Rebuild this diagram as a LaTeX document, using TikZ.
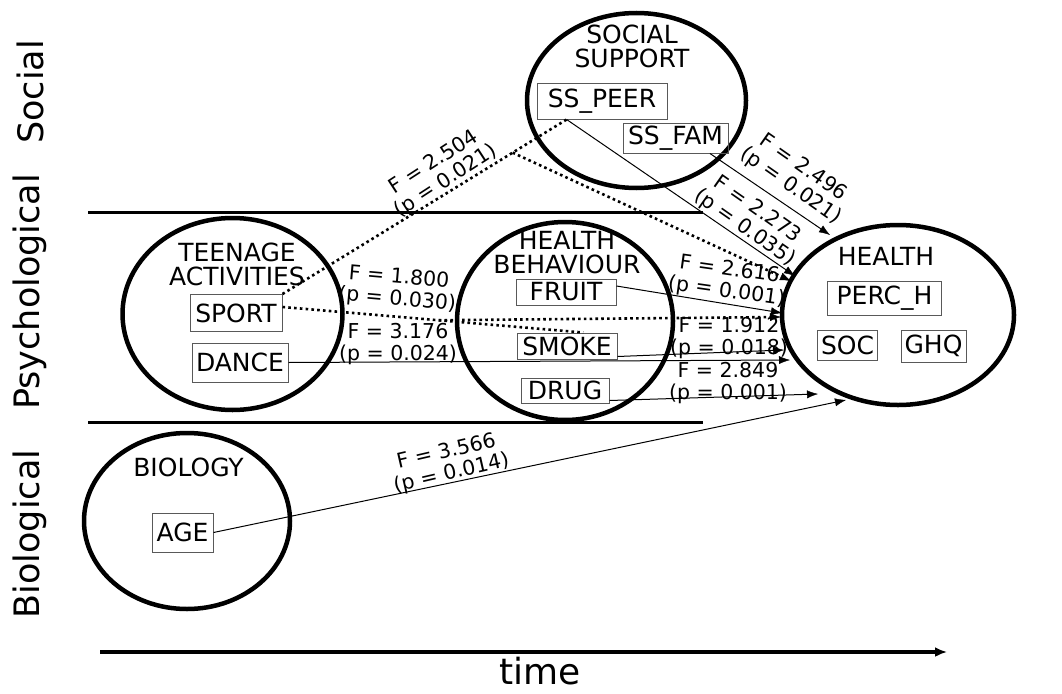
\documentclass[tikz,border=0pt]{standalone}
\usepackage{fontspec}
\setmainfont{DejaVu Sans}
\usetikzlibrary{arrows.meta,shapes.geometric,calc}
\begin{document}
\begin{tikzpicture}[x=1pt,y=-1pt,
  region/.style={ellipse,draw,line width=4.5pt,inner sep=0pt},
  var/.style={draw=black!65,line width=1pt,inner sep=0pt,font=\fontsize{25}{25}\selectfont},
  ttl/.style={align=center,inner sep=0pt,font=\fontsize{25}{24.5}\selectfont},
  lbl/.style={align=center,inner sep=0pt,font=\fontsize{20.5}{22}\selectfont},
  side/.style={rotate=90,inner sep=0pt,font=\fontsize{35}{35}\selectfont},
  tip/.style={-{Latex[length=11pt,width=8pt,line width=0.4pt]}},
  eff/.style={line width=1pt,tip},
  dot/.style={line width=2.6pt,dash pattern=on 2.6pt off 3.2pt},
  sepline/.style={line width=3pt}]
\useasboundingbox (0,0) rectangle (1062,693);

% side labels
\node[side] (lsoc) at (30,92) {Social};
\node[side] (lpsy) at (30,292) {Psychological};
\node[side] (lbio) at (30,534) {Biological};

% separators
\draw[sepline] (88,212) -- (703,212);
\draw[sepline] (88,422) -- (703,422);

% time axis
\coordinate (t0) at (100,652);
\coordinate (t1) at (947,652);
\draw[line width=3.5pt,-{Latex[length=12pt,width=10pt]}] (t0) -- (t1);
\node[inner sep=0pt,font=\fontsize{36}{36}\selectfont] (time) at (540,671) {time};

% regions
\node[region,minimum width=219,minimum height=175] (SSC) at (636.5,100.5) {};
\node[region,minimum width=220,minimum height=192] (TAC) at (232.5,314) {};
\node[region,minimum width=216,minimum height=198] (HBC) at (565,321) {};
\node[region,minimum width=232,minimum height=180] (HC) at (898,315) {};
\node[region,minimum width=206,minimum height=176] (BC) at (187,521) {};

% titles
\node[ttl] (tSS) at (632,46.5) {SOCIAL\\SUPPORT};
\node[ttl] (tTA) at (237,264.5) {TEENAGE\\ACTIVITIES};
\node[ttl] (tHB) at (567,252.5) {HEALTH\\BEHAVIOUR};
\node[ttl] (tH) at (886,256) {HEALTH};
\node[ttl] (tB) at (188.5,467) {BIOLOGY};

% variables
\node[var,minimum width=130,minimum height=36] (SSPEER) at (602,101) {SS\_PEER};
\node[var,minimum width=105,minimum height=30] (SSFAM) at (675.5,138) {SS\_FAM};
\node[var,minimum width=92,minimum height=37] (SPORT) at (236,313) {SPORT};
\node[var,minimum width=96,minimum height=39] (DANCE) at (240,362.5) {DANCE};
\node[var,minimum width=100,minimum height=26] (FRUIT) at (566,292) {FRUIT};
\node[var,minimum width=100,minimum height=26] (SMOKE) at (567,346) {SMOKE};
\node[var,minimum width=88,minimum height=25] (DRUG) at (565,390.5) {DRUG};
\node[var,minimum width=114,minimum height=34] (PERCH) at (884.5,298) {PERC\_H};
\node[var,minimum width=60,minimum height=30] (SOC) at (847.5,345) {SOC};
\node[var,minimum width=65,minimum height=32] (GHQ) at (933.5,346) {GHQ};
\node[var,minimum width=61,minimum height=39] (AGE) at (182.5,532.5) {AGE};

% connector end points at HEALTH
\coordinate (hA) at (791,281);
\coordinate (hB) at (795,276);
\coordinate (hC) at (830,235);
\coordinate (hD) at (782,313);
\coordinate (hE) at (781,317);
\coordinate (hF) at (784,350);
\coordinate (hG) at (790,360);
\coordinate (hH) at (818,394);
\coordinate (hI) at (846,400);

% start points
\coordinate (peB) at ($(SSPEER.south west)!0.23!(SSPEER.south east)$);
\coordinate (faB) at ($(SSFAM.south)!0.65!(SSFAM.south east)$);
\coordinate (spE) at ([yshift=6pt]SPORT.east);
\coordinate (smT) at ($(SMOKE.north)!0.32!(SMOKE.north east)$);
\coordinate (fk1) at ($(SPORT.north east)!0.81!(peB)$);
\coordinate (fk2) at ($(spE)!0.52!(smT)$);

% dotted paths
\draw[dot] (SPORT.north east) -- (peB);
\draw[dot,tip] (fk1) -- (hA);
\draw[dot] (spE) -- (smT);
\draw[dot,tip] (fk2) -- (hE);

% solid paths
\draw[eff] (peB) -- (hB);
\draw[eff] (faB) -- (hC);
\draw[eff] ([yshift=6pt]FRUIT.east) -- (hD);
\draw[eff] ([yshift=3pt]SMOKE.south east) -- (hF);
\draw[eff] (DANCE.east) -- (hG);
\draw[eff] ([yshift=3pt]DRUG.south east) -- (hH);
\draw[eff] (AGE.east) -- (hI);

% labels
\node[lbl,rotate=33] (L1) at (440,172) {F = 2.504\\(p = 0.021)};
\node[lbl,rotate=-35] (L2) at (797,177) {F = 2.496\\(p = 0.021)};
\node[lbl,rotate=-35] (L3) at (751,219) {F = 2.273\\(p = 0.035)};
\node[lbl,rotate=-8] (L4) at (728,281) {F = 2.616\\(p = 0.001)};
\node[lbl,rotate=-5] (L5) at (398,289) {F = 1.800\\(p = 0.030)};
\node[lbl] (L6) at (398,344) {F = 3.176\\(p = 0.024)};
\node[lbl] (L7) at (729,338) {F = 1.912\\(p = 0.018)};
\node[lbl] (L8) at (728,383) {F = 2.849\\(p = 0.001)};
\node[lbl,rotate=13] (L9) at (449,463) {F = 3.566\\(p = 0.014)};
\end{tikzpicture}
\end{document}
